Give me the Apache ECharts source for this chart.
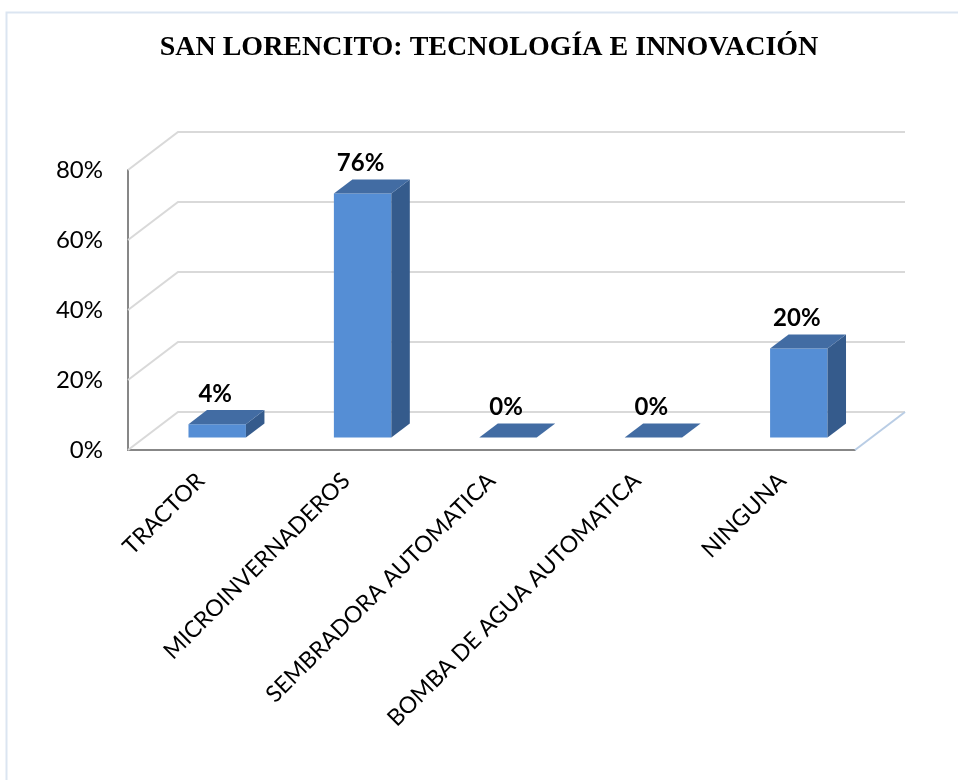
<!DOCTYPE html>
<html>
<head>
	<meta charset="utf-8">
	<script src="https://cdn.jsdelivr.net/npm/echarts@6/dist/echarts.min.js"></script>
</head>
<body style="margin:0;background:#fff;">
	<div id="main" style="width:958px;height:780px;"></div>
	<script type="text/javascript">
        // datos
        var categorias = ['TRACTOR', 'MICROINVERNADEROS', 'SEMBRADORA AUTOMATICA', 'BOMBA DE AGUA AUTOMATICA', 'NINGUNA'];
        // altura dibujada de cada barra (%), medida sobre la escala
        var alturas = [3.8, 69.7, 0, 0, 25.4];
        // etiqueta impresa encima de cada barra
        var etiquetas = ['4%', '76%', '0%', '0%', '20%'];
        var ticksY = [0, 20, 40, 60, 80];

        // vector de profundidad del "3D" (plano frontal -> pared del fondo)
        var FONDO = [50, -38];
        var D0 = 0.33, D1 = 0.70;   // donde empieza y termina la barra en profundidad

        var myChart = echarts.init(document.getElementById('main'));

        function paredes(params, api) {
            var cs = params.coordSys;
            var v = api.value(1);
            var y = api.coord([0, v])[1];
            var x0 = cs.x, x1 = cs.x + cs.width;
            var hijos = [{
                type: 'polyline',
                shape: {points: [[x0, y], [x0 + FONDO[0], y + FONDO[1]], [x1 + FONDO[0], y + FONDO[1]]]},
                style: {stroke: '#d9d9d9', lineWidth: 2, fill: null}
            }];
            if (v === 0) {
                hijos.push({
                    type: 'line',
                    shape: {x1: x1, y1: y, x2: x1 + FONDO[0], y2: y + FONDO[1]},
                    style: {stroke: '#b9cde5', lineWidth: 2}
                });
            }
            return {type: 'group', children: hijos};
        }

        function barra3d(params, api) {
            var i = api.value(0);
            var base = api.coord([i, 0]);
            var tope = api.coord([i, api.value(1)]);
            var hw = api.size([1, 0])[0] * 0.395 / 2;
            var dx0 = FONDO[0] * D0, dy0 = FONDO[1] * D0;
            var bx = FONDO[0] * (D1 - D0), by = FONDO[1] * (D1 - D0);
            var xl = base[0] - hw + dx0, xr = base[0] + hw + dx0;
            var yb = base[1] + dy0, yt = tope[1] + dy0;
            return {
                type: 'group',
                children: [
                    {type: 'rect', shape: {x: xl, y: yt, width: xr - xl, height: yb - yt},
                        style: {fill: '#558ed5'}},
                    {type: 'polygon', shape: {points: [[xr, yt], [xr + bx, yt + by], [xr + bx, yb + by], [xr, yb]]},
                        style: {fill: '#355b8c'}},
                    {type: 'polygon', shape: {points: [[xl, yt], [xr, yt], [xr + bx, yt + by], [xl + bx, yt + by]]},
                        style: {fill: '#426ca3'}},
                    {type: 'text', x: base[0] + dx0 - 2, y: yt + by - 4,
                        style: {text: etiquetas[i], font: 'bold 24px Lato', fill: '#000',
                            align: 'center', verticalAlign: 'bottom'}}
                ]
            };
        }

        var option = {
            animation: false,
            backgroundColor: '#fff',
            graphic: [
                {type: 'rect', z: -10, shape: {x: 6.5, y: 12.5, width: 1000, height: 820},
                    style: {fill: null, stroke: '#dbe5f1', lineWidth: 2}},
                {type: 'text', x: 489, y: 48,
                    style: {text: 'SAN LORENCITO: TECNOLOGÍA E INNOVACIÓN', font: 'bold 28px "Liberation Serif"',
                        fill: '#000', align: 'center', verticalAlign: 'middle'}}
            ],
            grid: {left: 128, top: 170, width: 727, height: 280},
            xAxis: {
                type: 'category',
                data: categorias,
                axisLine: {lineStyle: {color: '#878787', width: 2}},
                axisTick: {show: false},
                axisLabel: {rotate: 45, interval: 0, margin: 27, fontFamily: 'Lato', fontSize: 23, color: '#000'}
            },
            yAxis: {
                type: 'value',
                min: 0, max: 80, interval: 20,
                axisLine: {show: true, lineStyle: {color: '#878787', width: 2}},
                axisTick: {show: false},
                splitLine: {show: false},
                axisLabel: {formatter: '{value}%', margin: 25, fontFamily: 'Lato', fontSize: 24, color: '#000'}
            },
            series: [
                {
                    type: 'custom',
                    z: 1,
                    clip: false,
                    renderItem: paredes,
                    encode: {x: 0, y: 1},
                    data: ticksY.map(function (v) { return [0, v]; })
                },
                {
                    type: 'custom',
                    z: 3,
                    clip: false,
                    renderItem: barra3d,
                    encode: {x: 0, y: 1},
                    data: alturas.map(function (h, i) { return [i, h]; })
                }
            ]
        };
        myChart.setOption(option);
    </script>
</body>
</html>
